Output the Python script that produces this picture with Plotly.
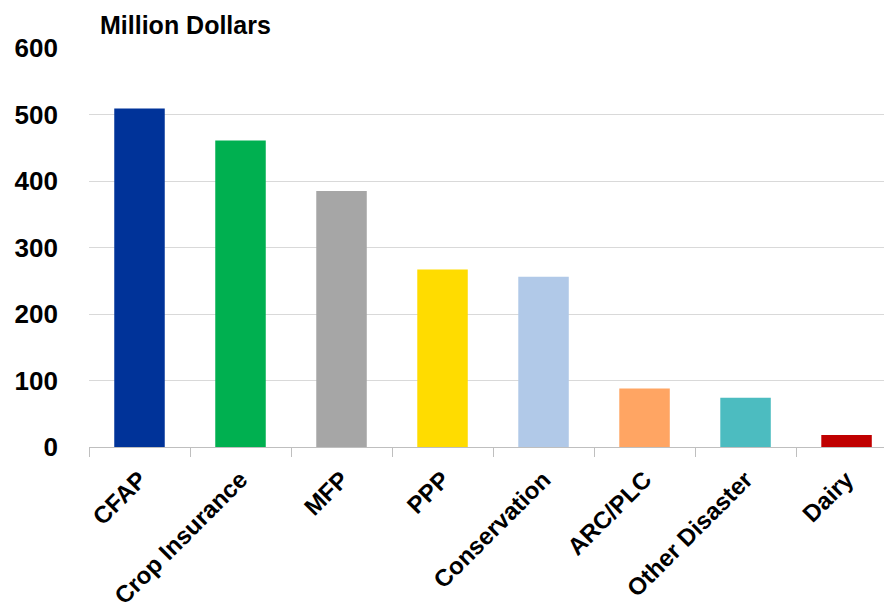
import plotly.graph_objects as go

categories = ["CFAP", "Crop Insurance", "MFP", "PPP", "Conservation", "ARC/PLC", "Other Disaster", "Dairy"]
values = [509, 461, 385, 267, 256, 88, 74, 18]
colors = ["#003399", "#00B050", "#A6A6A6", "#FFDC00", "#B1C9E8", "#FFA563", "#4CBCC0", "#C00000"]
y_ticks = [0, 100, 200, 300, 400, 500, 600]
unit_label = "Million Dollars"

fig = go.Figure(go.Bar(
    x=categories, y=values, marker=dict(color=colors, line=dict(width=0)),
    width=0.5,
))

fig.update_layout(
    width=884, height=596,
    margin=dict(l=81, r=0, t=40, b=157),
    plot_bgcolor="white", paper_bgcolor="white",
    showlegend=False,
    font=dict(family="Liberation Sans, Arial", color="black"),
    annotations=[dict(
        text="<b>" + unit_label + "</b>", xref="paper", yref="paper",
        x=0.011, y=1.0, yshift=23, xanchor="left", yanchor="middle",
        showarrow=False, font=dict(size=25, family="Liberation Sans, Arial", color="black"),
    )],
)

fig.update_yaxes(
    range=[0, 600], tickvals=y_ticks, ticktext=[f"<b>{v}</b>" for v in y_ticks],
    showgrid=True, gridcolor="#D9D9D9", gridwidth=1,
    zeroline=False, showline=False, automargin=False,
    tickfont=dict(size=26), ticklabelstandoff=30,
)
fig.update_xaxes(
    range=[-0.5, 7.45], tickvals=list(range(len(categories))),
    ticktext=[f"<b>{c}</b>" for c in categories],
    tickangle=-45, tickfont=dict(size=24), automargin=False,
    showline=True, linecolor="#BFBFBF", linewidth=1,
    ticks="outside", tickson="boundaries", ticklen=9, tickcolor="#BFBFBF",
    ticklabelstandoff=8,
    showgrid=False,
)

fig.write_html("out.html")
